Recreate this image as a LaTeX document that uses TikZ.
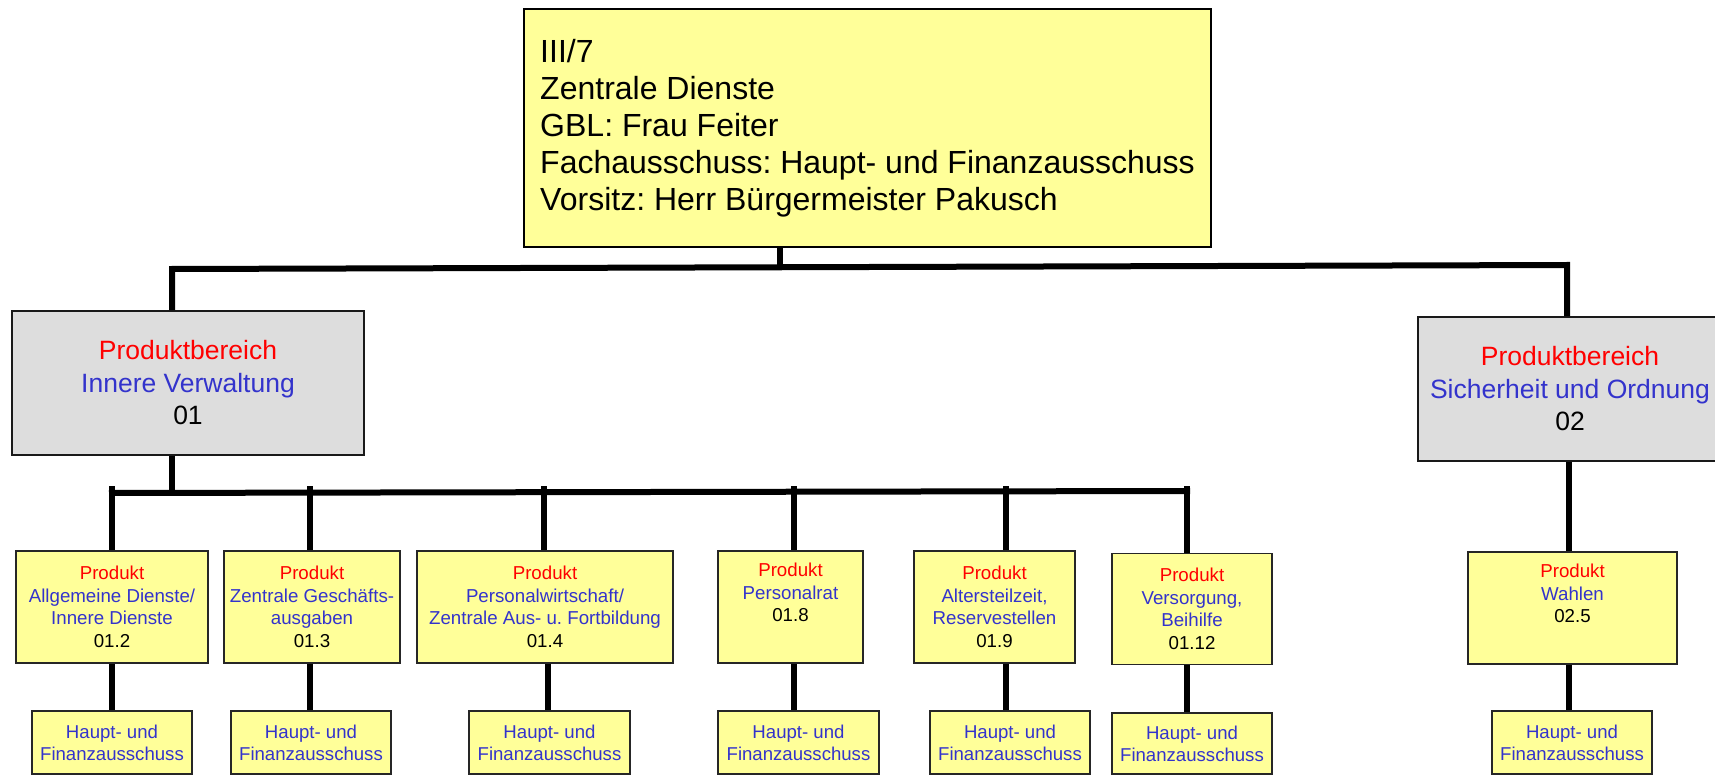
\documentclass[tikz,border=0pt]{standalone}
\usepackage{fontspec}
\setmainfont{Liberation Sans}
\frenchspacing
\definecolor{boxyellow}{HTML}{FFFF99}
\definecolor{boxgray}{HTML}{DDDDDD}
\definecolor{txtred}{HTML}{FF0000}
\definecolor{txtblue}{HTML}{3333CC}
\tikzset{
  conn/.style={line width=6pt, line join=miter},
  topbox/.style={draw=black, line width=1.6pt, fill=boxyellow, inner sep=0pt, align=left,
    font=\fontsize{32}{37}\selectfont},
  areabox/.style={draw=black!90, line width=1.6pt, fill=boxgray, inner sep=0pt, align=center,
    minimum width=#1, minimum height=144pt, font=\fontsize{26.5}{32.5}\selectfont},
  prodbox/.style={draw=black!85, line width=1.5pt, fill=boxyellow, inner sep=0pt, align=center,
    minimum width=#1, minimum height=112pt, font=\fontsize{18.7}{22.5}\selectfont},
  ausbox/.style={draw=black!85, line width=1.5pt, fill=boxyellow, inner sep=0pt, align=center,
    minimum width=#1, minimum height=63pt, text=txtblue, font=\fontsize{18.6}{22}\selectfont},
}
\newcommand{\rd}[1]{\textcolor{txtred}{#1}}
\newcommand{\bl}[1]{\textcolor{txtblue}{#1}}
\begin{document}
\begin{tikzpicture}[x=1pt,y=-1pt]
\useasboundingbox (0,0) rectangle (1715,775);
\clip (0,0) rectangle (1715,775);
\fill[white] (0,0) rectangle (1715,775);

% top box
\node[topbox, minimum width=687pt, minimum height=238pt] (top) at (867.5,128)
  {III/7\\Zentrale Dienste\\GBL: Frau Feiter\\Fachausschuss: Haupt- und Finanzausschuss\\Vorsitz: Herr Bürgermeister Pakusch};

% Produktbereiche
\node[areabox=352pt] (gl) at (188,383) {\rd{Produktbereich}\\\bl{Innere Verwaltung}\\01};
\node[areabox=304pt] (gr) at (1570,389) {\rd{Produktbereich}\\\bl{Sicherheit und Ordnung}\\02};

% Produkte
\node[prodbox=192pt] (p1) at (112,607) {\rd{Produkt}\\\bl{Allgemeine Dienste/}\\\bl{Innere Dienste}\\01.2};
\node[prodbox=176pt] (p2) at (312,607) {\rd{Produkt}\\\bl{Zentrale Geschäfts-}\\\bl{ausgaben}\\01.3};
\node[prodbox=256pt] (p3) at (545,607) {\rd{Produkt}\\\bl{Personalwirtschaft/}\\\bl{Zentrale Aus- u. Fortbildung}\\01.4};
\node[prodbox=145pt] (p4) at (790.5,607) {\rd{Produkt}\\\bl{Personalrat}\\01.8\\\strut};
\node[prodbox=161pt] (p5) at (994.5,607) {\rd{Produkt}\\\bl{Altersteilzeit,}\\\bl{Reservestellen}\\01.9};
\node[prodbox=160pt, minimum height=111pt] (p6) at (1192,609) {\rd{Produkt}\\\bl{Versorgung,}\\\bl{Beihilfe}\\01.12};
\node[prodbox=209pt] (p7) at (1572.5,608) {\rd{Produkt}\\\bl{Wahlen}\\02.5\\\strut};

% Ausschuesse
\node[ausbox=160pt] (b1) at (112,742.5) {Haupt- und\\Finanzausschuss};
\node[ausbox=160pt] (b2) at (311,742.5) {Haupt- und\\Finanzausschuss};
\node[ausbox=161pt] (b3) at (549.5,742.5) {Haupt- und\\Finanzausschuss};
\node[ausbox=161pt] (b4) at (798.5,742.5) {Haupt- und\\Finanzausschuss};
\node[ausbox=160pt] (b5) at (1010,742.5) {Haupt- und\\Finanzausschuss};
\node[ausbox=160pt, minimum height=61pt] (b6) at (1192,743.5) {Haupt- und\\Finanzausschuss};
\node[ausbox=160pt] (b7) at (1572,742.5) {Haupt- und\\Finanzausschuss};

% junction coordinates
\coordinate (tb) at (780,267);
\coordinate (busl) at (172,269);
\coordinate (busr) at (1567,265);
\coordinate (lb) at (172,492);
\coordinate (h1) at (109,493);
\coordinate (h6) at (1190,491);
\coordinate (v1) at (112,486);
\coordinate (v2) at (310,486);
\coordinate (v3) at (544,486);
\coordinate (v4) at (794,486);
\coordinate (v5) at (1006,486);
\coordinate (v6) at (1187,486);
\coordinate (w1) at (112,0);
\coordinate (w2) at (310,0);
\coordinate (w3) at (548,0);
\coordinate (w4) at (794,0);
\coordinate (w5) at (1006,0);
\coordinate (w6) at (1187,0);
\coordinate (w7) at (1569,0);

% connectors
\draw[conn] (top.south -| tb) -- (tb);
\draw[conn] (gl.north -| busl) -- (busl) -- (busr) -- (gr.north -| busr);
\draw[conn] (gl.south -| lb) -- (lb);
\draw[conn] (h1) -- (h6);
\draw[conn] (v1) -- (p1.north -| v1);
\draw[conn] (v2) -- (p2.north -| v2);
\draw[conn] (v3) -- (p3.north -| v3);
\draw[conn] (v4) -- (p4.north -| v4);
\draw[conn] (v5) -- (p5.north -| v5);
\draw[conn] (v6) -- (p6.north -| v6);
\draw[conn] (gr.south -| w7) -- (p7.north -| w7);
\draw[conn] (p1.south -| w1) -- (b1.north -| w1);
\draw[conn] (p2.south -| w2) -- (b2.north -| w2);
\draw[conn] (p3.south -| w3) -- (b3.north -| w3);
\draw[conn] (p4.south -| w4) -- (b4.north -| w4);
\draw[conn] (p5.south -| w5) -- (b5.north -| w5);
\draw[conn] (p6.south -| w6) -- (b6.north -| w6);
\draw[conn] (p7.south -| w7) -- (b7.north -| w7);
\end{tikzpicture}
\end{document}
